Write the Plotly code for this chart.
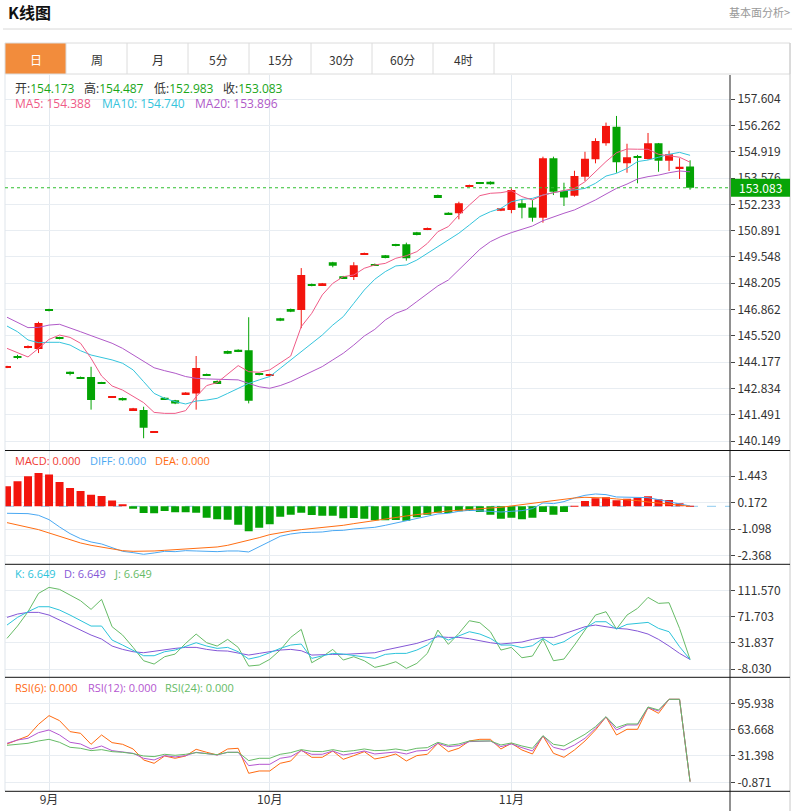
import plotly.graph_objects as go

W, H = 792, 811
def px(x):
    return x / W
def py(y):
    return 1 - y / H

# ---------------- data ----------------
dates = [
    '2024-08-27', '2024-08-28', '2024-08-29', '2024-08-30',
    '2024-09-02', '2024-09-03', '2024-09-04', '2024-09-05', '2024-09-06',
    '2024-09-09', '2024-09-10', '2024-09-11', '2024-09-12', '2024-09-13',
    '2024-09-16', '2024-09-17', '2024-09-18', '2024-09-19', '2024-09-20',
    '2024-09-23', '2024-09-24', '2024-09-25', '2024-09-26', '2024-09-27',
    '2024-09-30',
    '2024-10-01', '2024-10-02', '2024-10-03', '2024-10-04',
    '2024-10-07', '2024-10-08', '2024-10-09', '2024-10-10', '2024-10-11',
    '2024-10-14', '2024-10-15', '2024-10-16', '2024-10-17', '2024-10-18',
    '2024-10-21', '2024-10-22', '2024-10-23', '2024-10-24', '2024-10-25',
    '2024-10-28', '2024-10-29', '2024-10-30', '2024-10-31',
    '2024-11-01',
    '2024-11-04', '2024-11-05', '2024-11-06', '2024-11-07', '2024-11-08',
    '2024-11-11', '2024-11-12', '2024-11-13', '2024-11-14', '2024-11-15',
    '2024-11-18', '2024-11-19', '2024-11-20', '2024-11-21', '2024-11-22',
    '2024-11-25', '2024-11-26',
]
tick_dates = ['2024-09-02', '2024-10-01', '2024-11-01']
tick_text = ['9月', '10月', '11月']

opens = [143.90, 144.46, 144.90, 144.85, 146.86, 145.45, 143.69, 143.42, 143.42, 143.15,
         142.37, 142.35, 141.72, 141.73, 140.58, 142.36, 142.23, 142.53, 142.57, 143.57,
         143.21, 144.75, 144.81, 144.78, 143.61, 143.47, 146.42, 146.89, 146.84, 148.17,
         148.10, 149.28, 148.56, 148.53, 149.68, 149.19, 149.63, 150.20, 150.20, 150.81,
         150.94, 152.71, 151.81, 151.78, 153.17, 153.34, 153.39, 151.91, 151.95, 152.29,
         152.08, 151.55, 154.59, 152.92, 152.68, 153.65, 154.54, 155.35, 156.20, 154.33,
         154.66, 154.55, 155.35, 154.46, 154.06, 154.173]
highs = [143.99, 144.55, 145.03, 146.24, 146.90, 145.47, 143.70, 143.44, 143.94, 143.17,
         142.44, 142.37, 141.84, 141.90, 140.64, 142.38, 142.25, 142.64, 144.49, 143.59,
         143.24, 144.77, 144.83, 146.47, 143.63, 143.58, 146.44, 146.91, 148.98, 148.19,
         148.22, 149.30, 148.58, 149.28, 149.77, 149.21, 149.65, 150.22, 150.28, 150.83,
         151.05, 152.73, 151.83, 152.37, 153.24, 153.36, 153.41, 152.05, 153.05, 152.51,
         152.46, 154.67, 154.67, 153.34, 153.95, 154.92, 155.61, 156.41, 156.75, 155.33,
         154.76, 155.88, 155.37, 154.97, 154.59, 154.487]
lows = [143.87, 144.33, 144.88, 144.64, 146.77, 145.34, 143.50, 143.33, 141.75, 143.06,
        142.35, 142.21, 141.70, 140.29, 140.56, 142.26, 142.03, 142.51, 141.75, 143.49,
        143.08, 144.59, 144.69, 142.07, 143.50, 143.45, 146.27, 146.73, 145.91, 148.05,
        148.08, 149.02, 148.44, 148.37, 149.66, 149.10, 149.48, 150.09, 149.36, 150.65,
        150.92, 152.59, 151.72, 151.47, 153.15, 153.27, 153.24, 151.89, 151.78, 151.52,
        151.35, 151.30, 152.71, 152.15, 152.63, 153.43, 154.33, 155.23, 153.85, 153.85,
        153.31, 154.52, 153.90, 153.94, 153.53, 152.983]
closes = [143.96, 144.42, 145.00, 146.17, 146.82, 145.37, 143.57, 143.35, 142.24, 143.08,
          142.42, 142.23, 141.82, 140.83, 140.62, 142.28, 142.07, 142.62, 143.88, 143.50,
          143.11, 144.61, 144.71, 142.21, 143.52, 143.56, 146.29, 146.75, 148.63, 148.07,
          148.20, 149.10, 148.46, 149.12, 149.75, 149.12, 149.50, 150.11, 149.48, 150.67,
          151.03, 152.61, 151.74, 152.29, 153.22, 153.29, 153.26, 152.03, 152.97, 152.06,
          151.55, 154.59, 152.88, 152.58, 153.68, 154.57, 155.47, 156.24, 154.38, 154.64,
          154.62, 155.35, 154.46, 154.79, 154.16, 153.083]

ma5 = [144.88, 144.68, 144.44, 144.88, 145.34, 145.56, 145.44, 145.14, 144.37, 143.47,
       142.96, 142.75, 142.41, 142.11, 141.61, 141.56, 141.56, 141.70, 142.41, 142.98,
       143.13, 143.57, 144.00, 143.69, 143.66, 143.78, 144.12, 144.49, 145.99, 146.67,
       147.61, 148.20, 148.54, 148.63, 148.97, 149.14, 149.22, 149.48, 149.61, 149.82,
       150.24, 150.84, 151.10, 151.69, 152.20, 152.68, 152.80, 152.83, 152.93, 152.63,
       152.46, 152.71, 152.83, 152.93, 153.05, 153.39, 153.90, 154.42, 154.87, 155.06,
       155.05, 155.05, 154.79, 154.72, 154.64, 154.388]
ma10 = [146.02, 145.73, 145.31, 145.17, 145.19, 145.19, 145.05, 144.76, 144.54, 144.42,
        144.29, 144.12, 143.78, 143.18, 142.58, 142.33, 142.16, 142.04, 142.19, 142.24,
        142.33, 142.58, 142.84, 143.09, 143.27, 143.44, 143.86, 144.29, 144.71, 145.14,
        145.56, 146.07, 146.50, 147.18, 147.86, 148.41, 148.80, 149.09, 149.14, 149.39,
        149.73, 150.07, 150.41, 150.76, 151.18, 151.61, 151.86, 152.03, 152.37, 152.49,
        152.54, 152.71, 152.83, 152.93, 152.97, 153.05, 153.31, 153.68, 153.82, 154.07,
        154.42, 154.50, 154.64, 154.79, 154.89, 154.740]
ma20 = [146.47, 146.19, 145.94, 145.95, 146.07, 146.11, 145.94, 145.73, 145.53, 145.34,
        145.14, 144.88, 144.54, 144.20, 143.89, 143.74, 143.61, 143.44, 143.35, 143.32,
        143.30, 143.30, 143.27, 143.09, 142.92, 142.84, 142.98, 143.18, 143.44, 143.69,
        143.95, 144.29, 144.63, 145.05, 145.51, 145.85, 146.33, 146.67, 146.87, 147.27,
        147.69, 148.07, 148.37, 148.88, 149.39, 149.94, 150.33, 150.59, 150.79, 150.96,
        151.13, 151.40, 151.61, 151.78, 151.95, 152.20, 152.46, 152.76, 153.05, 153.27,
        153.53, 153.65, 153.73, 153.85, 153.94, 153.896]

macd = [0.958, 1.198, 1.438, 1.597, 1.518, 1.166, 0.879, 0.735, 0.559, 0.495,
        0.272, 0.096, -0.112, -0.319, -0.335, -0.224, -0.288, -0.288, -0.304, -0.543,
        -0.623, -0.647, -0.879, -1.198, -1.022, -0.863, -0.495, -0.399, -0.304, -0.415,
        -0.447, -0.447, -0.575, -0.559, -0.591, -0.671, -0.671, -0.655, -0.687, -0.527,
        -0.399, -0.304, -0.319, -0.240, -0.224, -0.272, -0.399, -0.591, -0.543, -0.623,
        -0.543, -0.272, -0.399, -0.272, 0.010, 0.256, 0.383, 0.431, 0.288, 0.367,
        0.415, 0.479, 0.335, 0.304, 0.144, 0.016]
diff = [-0.335, -0.335, -0.351, -0.431, -0.639, -0.990, -1.310, -1.550, -1.709, -1.805,
        -1.997, -2.157, -2.220, -2.300, -2.236, -2.157, -2.173, -2.125, -2.141, -2.173,
        -2.173, -2.141, -2.141, -2.188, -1.949, -1.677, -1.438, -1.326, -1.262, -1.246,
        -1.230, -1.166, -1.150, -1.086, -1.038, -1.006, -0.911, -0.799, -0.703, -0.559,
        -0.463, -0.367, -0.335, -0.240, -0.192, -0.208, -0.240, -0.272, -0.240, -0.208,
        -0.112, 0.160, 0.128, 0.224, 0.399, 0.527, 0.591, 0.559, 0.447, 0.447,
        0.447, 0.415, 0.319, 0.208, 0.128, 0.016]
dea = [-0.783, -0.879, -1.006, -1.118, -1.278, -1.470, -1.629, -1.757, -1.869, -1.949,
       -2.045, -2.125, -2.157, -2.157, -2.141, -2.109, -2.077, -2.061, -2.029, -1.997,
       -1.949, -1.869, -1.757, -1.629, -1.502, -1.358, -1.262, -1.182, -1.118, -1.070,
       -1.022, -0.974, -0.911, -0.831, -0.751, -0.671, -0.607, -0.543, -0.463, -0.399,
       -0.335, -0.272, -0.224, -0.192, -0.144, -0.112, -0.080, -0.048, 0.016, 0.080,
       0.160, 0.240, 0.288, 0.335, 0.399, 0.431, 0.431, 0.399, 0.351, 0.319,
       0.272, 0.208, 0.160, 0.112, 0.064, 0.000]

k_vals = [59.15, 70.86, 79.51, 87.14, 87.14, 82.06, 74.42, 65.77, 57.63, 57.63,
          36.25, 28.62, 20.99, 12.33, 12.33, 18.44, 20.99, 26.08, 32.18, 27.09,
          23.53, 25.06, 18.44, 7.24, 10.81, 16.91, 23.53, 28.62, 30.15, 8.27,
          11.83, 15.90, 14.88, 12.33, 10.81, 8.27, 14.37, 15.90, 15.90, 20.99,
          28.62, 43.89, 36.25, 42.36, 48.98, 45.41, 38.80, 28.62, 28.62, 24.55,
          27.60, 38.80, 28.62, 33.71, 43.89, 54.06, 64.24, 64.24, 53.05, 60.17,
          61.70, 63.22, 54.06, 48.98, 26.08, 6.649]
d_vals = [70.86, 75.95, 78.49, 78.49, 74.42, 66.79, 59.15, 51.52, 43.89, 37.78,
          27.09, 22.01, 18.44, 16.91, 19.46, 22.01, 23.53, 25.06, 25.06, 22.01,
          19.97, 19.46, 16.91, 13.35, 15.90, 18.44, 20.99, 22.01, 19.97, 13.35,
          14.37, 14.37, 14.37, 14.88, 15.39, 16.91, 20.99, 24.04, 27.09, 31.17,
          36.25, 41.34, 40.33, 40.33, 38.29, 34.73, 32.18, 30.15, 31.17, 33.20,
          37.27, 40.33, 40.33, 45.41, 51.52, 56.61, 59.15, 56.61, 54.06, 53.05,
          49.99, 45.41, 37.27, 27.09, 15.90, 6.649]
j_vals = [38.80, 57.63, 79.51, 107.50, 116.66, 113.61, 104.96, 96.30, 83.07, 98.34,
          56.61, 43.89, 25.06, 4.71, -0.38, 10.81, 14.88, 31.17, 45.41, 32.18,
          27.09, 37.27, 25.06, -3.44, -1.91, 6.74, 20.99, 40.33, 52.54, 1.65,
          10.81, 22.01, 5.72, 10.81, 4.71, -5.47, -1.91, 3.18, -7.00, 0.63,
          15.90, 51.52, 29.64, 46.43, 65.77, 62.72, 48.98, 20.99, 25.06, 9.28,
          11.83, 37.78, 4.71, 7.24, 28.62, 52.54, 74.42, 79.51, 53.05, 74.42,
          84.60, 101.39, 92.23, 93.25, 54.06, 6.649]

rsi6 = [46.10, 51.00, 55.90, 70.20, 80.82, 74.69, 61.21, 59.17, 45.69, 57.13,
        47.73, 45.69, 39.97, 26.49, 22.41, 31.39, 28.53, 31.39, 39.56, 35.89,
        32.62, 39.97, 40.79, 10.15, 13.01, 13.01, 22.41, 25.27, 38.75, 29.76,
        29.76, 37.52, 27.31, 31.80, 36.70, 27.72, 30.17, 33.84, 25.27, 31.80,
        33.44, 46.92, 36.70, 40.79, 49.78, 51.82, 51.82, 39.97, 46.92, 38.75,
        33.84, 55.90, 34.66, 29.76, 38.75, 49.78, 63.26, 79.19, 57.13, 64.07,
        64.07, 90.63, 83.68, 100.84, 100.84, 0.00]
rsi12 = [46.92, 51.00, 53.05, 60.00, 63.26, 57.13, 48.14, 46.10, 39.97, 43.65,
         37.93, 36.70, 34.66, 28.53, 26.49, 31.80, 30.17, 31.80, 35.89, 34.25,
         32.62, 35.89, 35.89, 19.55, 21.18, 21.18, 28.53, 30.58, 37.93, 33.44,
         33.44, 37.52, 32.62, 34.66, 37.52, 33.84, 34.66, 36.29, 33.84, 37.52,
         38.34, 46.92, 42.83, 44.06, 48.96, 49.78, 49.78, 42.83, 46.10, 41.61,
         37.52, 55.90, 42.01, 38.75, 44.88, 53.05, 65.30, 79.19, 63.26, 69.39,
         69.39, 90.63, 86.54, 100.84, 100.84, 0.00]
rsi24 = [44.47, 45.69, 46.92, 49.78, 51.82, 48.14, 42.01, 40.79, 37.93, 39.16,
         36.70, 35.89, 34.25, 31.39, 30.58, 33.44, 32.21, 33.44, 35.48, 34.25,
         33.03, 35.89, 35.89, 25.67, 28.53, 28.53, 33.44, 35.48, 39.16, 37.11,
         36.70, 39.16, 36.70, 37.93, 39.97, 37.93, 38.34, 39.97, 37.93, 40.79,
         41.61, 48.14, 44.47, 46.10, 49.78, 49.78, 49.78, 44.88, 47.33, 43.65,
         40.79, 56.31, 45.69, 43.65, 51.00, 57.95, 67.34, 79.60, 66.12, 70.61,
         70.61, 91.44, 87.77, 100.84, 100.84, 0.00]

price_ticks = [140.149, 141.491, 142.834, 144.177, 145.520, 146.862, 148.205,
               149.548, 150.891, 152.233, 153.576, 154.919, 156.262, 157.604]
macd_ticks = [1.443, 0.172, -1.098, -2.368]
kdj_ticks = [111.570, 71.703, 31.837, -8.030]
rsi_ticks = [95.938, 63.668, 31.398, -0.871]
last_close = 153.083

tabs = ['日', '周', '月', '5分', '15分', '30分', '60分', '4时']

# ---------------- styles ----------------
RED = '#f3150d'
GREEN = '#04a304'
C_MA5 = '#ef5b87'
C_MA10 = '#35c4dc'
C_MA20 = '#b05ac8'
C_DIFF = '#4aa8f2'
C_DEA = '#ff6d12'
C_K = '#2cc3da'
C_D = '#8457d6'
C_J = '#66bb66'
C_R6 = '#ff6a10'
C_R12 = '#b456d0'
C_R24 = '#66bb66'
FONT = 'Open Sans, Noto Sans CJK SC'
CJK = 'Noto Sans CJK SC'

fig = go.Figure()

up = [i for i in range(len(dates)) if closes[i] >= opens[i]]
dn = [i for i in range(len(dates)) if closes[i] < opens[i]]

def wicks(idx):
    xs, ys = [], []
    for i in idx:
        xs += [dates[i], dates[i], None]
        ys += [lows[i], highs[i], None]
    return xs, ys

for idx, col in ((up, RED), (dn, GREEN)):
    wx, wy = wicks(idx)
    fig.add_trace(go.Scatter(x=wx, y=wy, mode='lines', line=dict(color=col, width=1),
                             xaxis='x', yaxis='y', hoverinfo='skip', showlegend=False))
    fig.add_trace(go.Bar(x=[dates[i] for i in idx],
                         base=[min(opens[i], closes[i]) for i in idx],
                         y=[abs(closes[i] - opens[i]) for i in idx],
                         width=0.76, marker=dict(color=col, line=dict(width=0)),
                         xaxis='x', yaxis='y', showlegend=False, hoverinfo='skip'))

for vals, col in ((ma20, C_MA20), (ma10, C_MA10), (ma5, C_MA5)):
    fig.add_trace(go.Scatter(x=dates, y=vals, mode='lines', line=dict(color=col, width=1),
                             xaxis='x', yaxis='y', showlegend=False, hoverinfo='skip'))

# MACD
fig.add_trace(go.Bar(x=dates, y=macd, width=0.76,
                     marker=dict(color=[RED if v >= 0 else GREEN for v in macd], line=dict(width=0)),
                     xaxis='x2', yaxis='y2', showlegend=False, hoverinfo='skip'))
for vals, col in ((diff, C_DIFF), (dea, C_DEA)):
    fig.add_trace(go.Scatter(x=dates, y=vals, mode='lines', line=dict(color=col, width=1),
                             xaxis='x2', yaxis='y2', showlegend=False, hoverinfo='skip'))

# KDJ
for vals, col in ((j_vals, C_J), (d_vals, C_D), (k_vals, C_K)):
    fig.add_trace(go.Scatter(x=dates, y=vals, mode='lines', line=dict(color=col, width=1),
                             xaxis='x3', yaxis='y3', showlegend=False, hoverinfo='skip'))

# RSI
for vals, col in ((rsi6, C_R6), (rsi12, C_R12), (rsi24, C_R24)):
    fig.add_trace(go.Scatter(x=dates, y=vals, mode='lines', line=dict(color=col, width=1),
                             xaxis='x4', yaxis='y4', showlegend=False, hoverinfo='skip'))

# ---------------- axes ----------------
def xax(anchor, labels):
    return dict(type='category', categoryorder='array', categoryarray=dates,
                range=[-0.19, 68.8], domain=[px(5), px(730)], anchor=anchor,
                showgrid=True, gridcolor='#e3e9ef', gridwidth=1,
                tickmode='array', tickvals=tick_dates, ticktext=tick_text,
                showticklabels=labels, ticks='', zeroline=False, showline=False,
                tickfont=dict(family=CJK, size=12, color='#333'), fixedrange=True)

def yax(dom, rng, ticks, anchor):
    return dict(domain=dom, range=rng, side='right', anchor=anchor,
                tickmode='array', tickvals=ticks, ticktext=['%.3f' % t for t in ticks],
                ticks='outside', ticklen=4, tickcolor='#444', tickwidth=1,
                showgrid=True, gridcolor='#e8edf2', gridwidth=1,
                zeroline=False, showline=False,
                tickfont=dict(family=CJK, size=12, color='#333'), fixedrange=True)

layout = dict(
    width=W, height=H, margin=dict(l=0, r=0, t=0, b=0),
    paper_bgcolor='white', plot_bgcolor='white', barmode='overlay',
    showlegend=False, font=dict(family=FONT, color='#333'),
    xaxis=xax('y', False), xaxis2=xax('y2', False), xaxis3=xax('y3', False), xaxis4=xax('y4', True),
    yaxis=yax([py(450.5), py(75)], [139.664, 158.841], price_ticks, 'x'),
    yaxis2=yax([py(564.3), py(450.7)], [-2.779, 2.664], macd_ticks, 'x2'),
    yaxis3=yax([py(677.3), py(564.3)], [-20.6, 151.9], kdj_ticks, 'x3'),
    yaxis4=yax([py(791.3), py(677.3)], [-11.9, 127.8], rsi_ticks, 'x4'),
)
fig.update_layout(**layout)

# ---------------- decorations ----------------
shapes = []
def pline(x0, y0, x1, y1, color, width=1, dash='solid', layer='above'):
    shapes.append(dict(type='line', xref='paper', yref='paper', x0=px(x0), y0=py(y0),
                       x1=px(x1), y1=py(y1), line=dict(color=color, width=width, dash=dash),
                       layer=layer))

pline(3, 29, 792, 29, '#d8d8d8')
shapes.append(dict(type='rect', xref='paper', yref='paper', x0=px(5), x1=px(66), y0=py(74), y1=py(43),
                   fillcolor='#f28c3c', line=dict(width=0), layer='below'))
shapes.append(dict(type='rect', xref='paper', yref='paper', x0=px(5), x1=px(790), y0=py(74), y1=py(43),
                   fillcolor='rgba(0,0,0,0)', line=dict(color='#dcdcdc', width=1), layer='above'))
cell_edges = [66, 127, 188, 249, 311, 372, 433, 494]
for cx in cell_edges:
    pline(cx, 43, cx, 74, '#dcdcdc')
pline(5, 74, 5, 791, '#dfe5eb')
pline(790, 43, 790, 811, '#c8c8c8')
pline(730, 75, 730, 811, '#222222')
for sy in (450.5, 564.3, 677.3, 791.3):
    pline(5, sy, 790, sy, '#111111')

# current price dotted line + box
shapes.append(dict(type='line', xref='paper', yref='y', x0=px(5), x1=px(730), y0=last_close, y1=last_close,
                   line=dict(color='#2fbf2f', width=1, dash='dot'), layer='above'))
shapes.append(dict(type='rect', xref='paper', yref='y', x0=px(731), x1=px(790),
                   y0=last_close - 0.46, y1=last_close + 0.46,
                   fillcolor='#07a407', line=dict(width=0), layer='above'))
# MACD zero line
shapes.append(dict(type='line', xref='paper', yref='y2', x0=px(5), x1=px(730), y0=0, y1=0,
                   line=dict(color='#8fcbef', width=1, dash='dash'), layer='below'))

annotations = []
def ann(x, y, text, size=12, color='#333', xanchor='left', family=FONT):
    annotations.append(dict(xref='paper', yref='paper', x=px(x), y=py(y), text=text,
                            showarrow=False, xanchor=xanchor, yanchor='middle',
                            font=dict(size=size, color=color, family=family)))

ann(6, 12, '<b>K线图</b>', size=16, color='#111', family=CJK)
ann(792, 12, '基本面分析>', size=11, color='#999', xanchor='right', family=CJK)
tab_centers = [35.5, 96.5, 157.5, 218.5, 280, 341.5, 402.5, 463.5]
for i, (t, cx) in enumerate(zip(tabs, tab_centers)):
    ann(cx, 59, t, size=12, color='white' if i == 0 else '#333', xanchor='center', family=CJK)

VAL = '#1aa61a'
def kv(label, value, lc='#333', vc=VAL):
    return '<span style="color:%s">%s:</span><span style="color:%s">%s</span>' % (lc, label, vc, value)

ohlc_labels = ['开', '高', '低', '收']
ohlc_values = [opens[-1], highs[-1], lows[-1], closes[-1]]
for lx, lab, val in zip([13, 82, 152, 221], ohlc_labels, ohlc_values):
    ann(lx, 89, kv(lab, '%.3f' % val))

for lx, lab, val, col in zip([13, 100, 193], ['MA5', 'MA10', 'MA20'],
                             [ma5[-1], ma10[-1], ma20[-1]], [C_MA5, C_MA10, C_MA20]):
    ann(lx, 104, '%s: %.3f' % (lab, val), color=col)

for lx, lab, col in zip([13, 88, 153], ['MACD', 'DIFF', 'DEA'], ['#f03a32', C_DIFF, C_DEA]):
    ann(lx, 460, '%s: 0.000' % lab, size=11, color=col)

for lx, lab, val, col in zip([13, 62, 112], ['K', 'D', 'J'],
                             [k_vals[-1], d_vals[-1], j_vals[-1]], [C_K, C_D, C_J]):
    ann(lx, 573, '%s: %.3f' % (lab, val), size=11, color=col)

for lx, lab, val, col in zip([13, 86, 163], ['RSI(6)', 'RSI(12)', 'RSI(24)'],
                             [rsi6[-1], rsi12[-1], rsi24[-1]], [C_R6, C_R12, C_R24]):
    ann(lx, 687, '%s: %.3f' % (lab, val), size=11, color=col)

annotations.append(dict(xref='paper', yref='y', x=px(760), y=last_close, text='%.3f' % last_close,
                        showarrow=False, xanchor='center', yanchor='middle',
                        font=dict(size=12, color='white', family=CJK)))

fig.update_layout(shapes=shapes, annotations=annotations)
fig.write_html('out.html', config={'displayModeBar': False},
               post_script="document.body.style.margin='0px';document.documentElement.style.overflow='hidden';")
